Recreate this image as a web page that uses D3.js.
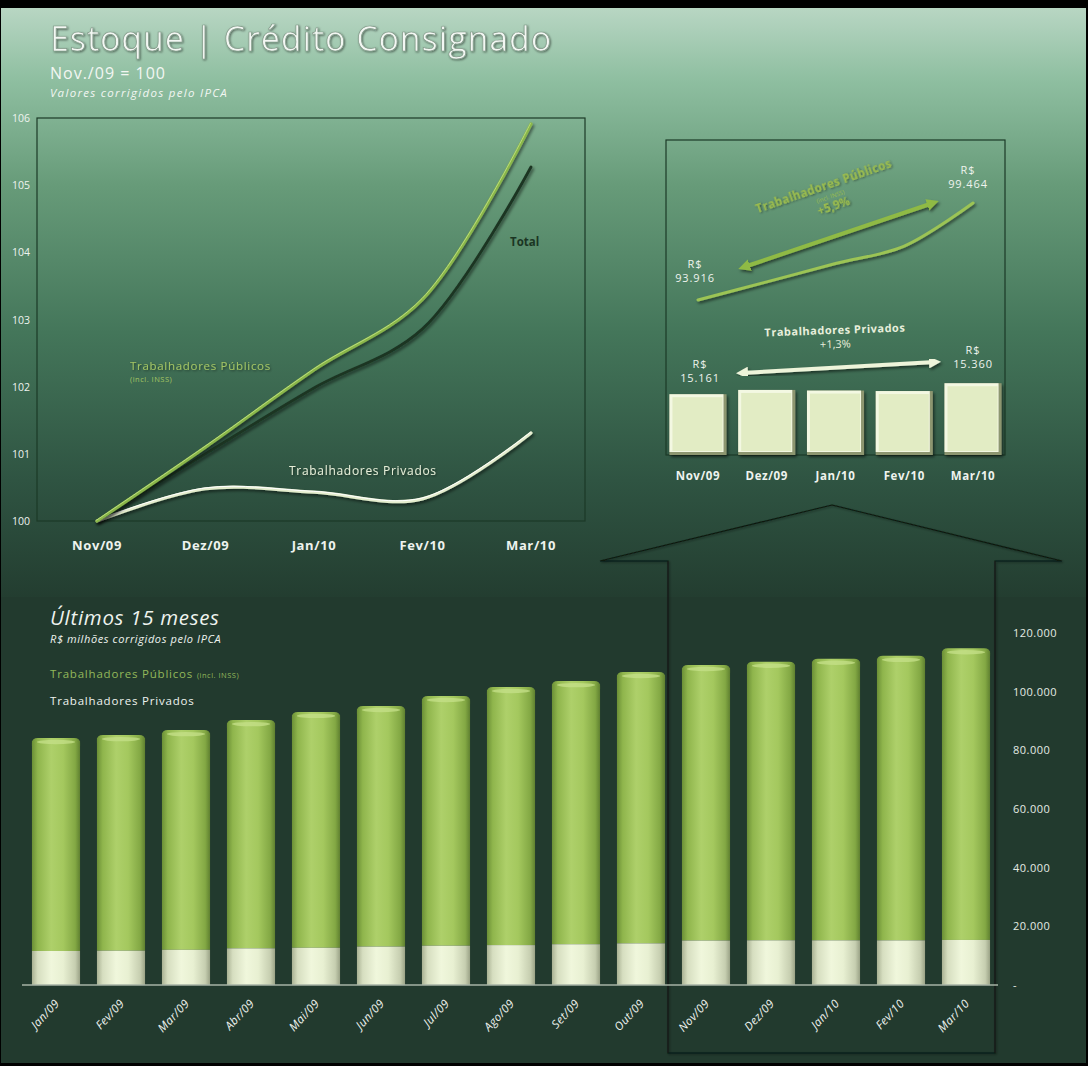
<!DOCTYPE html>
<html><head><meta charset="utf-8">
<script src="https://cdn.jsdelivr.net/npm/d3@7"></script>
<style>html,body{margin:0;padding:0;background:#000;}svg{display:block;}</style>
</head><body>
<svg id="c" width="1088" height="1066"></svg>
<script>
// ---------- DATA ----------
const indexMonths = ["Nov/09","Dez/09","Jan/10","Fev/10","Mar/10"];
const idxPublicos = [100, 101.10, 102.25, 103.30, 105.91];
const idxTotal    = [100, 101.00, 101.98, 102.86, 105.27];
const idxPrivados = [100, 100.48, 100.43, 100.33, 101.31];
const idxTicks = [100,101,102,103,104,105,106];

const insetPublicos = [93916, 94950, 96000, 97000, 99464];
const insetPrivados = [15161, 15238, 15227, 15218, 15360];

const months15 = ["Jan/09","Fev/09","Mar/09","Abr/09","Mai/09","Jun/09","Jul/09","Ago/09","Set/09","Out/09","Nov/09","Dez/09","Jan/10","Fev/10","Mar/10"];
const privados15 = [11600,11700,12000,12500,12700,13100,13400,13600,13900,14200,15161,15238,15227,15218,15360];
const publicos15 = [72600,73500,74900,77800,80400,82000,85100,88000,89700,92500,93916,94950,96000,97000,99464];
const rightTicks = [0,20000,40000,60000,80000,100000,120000];
const rightTickLabels = ["-","20.000","40.000","60.000","80.000","100.000","120.000"];

// ---------- SETUP ----------
const svg = d3.select("#c");
const defs = svg.append("defs");
const F = "'Open Sans', 'DejaVu Sans', sans-serif";

const bg = defs.append("linearGradient").attr("id","bg").attr("x1",0).attr("y1",0).attr("x2",0).attr("y2",1);
[[0,"#b8d6c3"],[0.12,"#8fbfa1"],[0.3,"#679b79"],[0.55,"#44765a"],[0.8,"#2f5442"],[1,"#233d30"]]
  .forEach(s=>bg.append("stop").attr("offset",s[0]).attr("stop-color",s[1]));

function hgrad(id, stops){
  const g = defs.append("linearGradient").attr("id",id).attr("x1",0).attr("y1",0).attr("x2",1).attr("y2",0);
  stops.forEach(s=>g.append("stop").attr("offset",s[0]).attr("stop-color",s[1]));
}
hgrad("gPub",[[0,"#6b8f36"],[0.12,"#8fb54c"],[0.4,"#aed06a"],[0.65,"#a4c85e"],[0.9,"#83a844"],[1,"#5f8030"]]);
hgrad("gPri",[[0,"#a9b193"],[0.12,"#d6dec0"],[0.4,"#f0f7dc"],[0.65,"#e8f0d2"],[0.9,"#c6ceb0"],[1,"#9aa286"]]);

const sh = defs.append("filter").attr("id","sh").attr("x","-20%").attr("y","-20%").attr("width","140%").attr("height","140%");
sh.append("feDropShadow").attr("dx",1.5).attr("dy",2).attr("stdDeviation",1.5).attr("flood-color","#000").attr("flood-opacity",0.55);
const tsh = defs.append("filter").attr("id","tsh").attr("x","-10%").attr("y","-30%").attr("width","120%").attr("height","160%");
tsh.append("feDropShadow").attr("dx",1).attr("dy",1).attr("stdDeviation",0.8).attr("flood-color","#000").attr("flood-opacity",0.5);

// background
svg.append("rect").attr("width",1088).attr("height",1066).attr("fill","#000");
svg.append("rect").attr("x",1).attr("y",8).attr("width",1085).attr("height",590).attr("fill","url(#bg)");
svg.append("rect").attr("x",1).attr("y",597).attr("width",1085).attr("height",466).attr("fill","#223a2e");

// ---------- TITLE ----------
svg.append("text").attr("x",50).attr("y",51).attr("font-family",F).attr("font-size",34).attr("letter-spacing",0.9)
  .attr("fill","#f3f7f3").attr("stroke","#7f9786").attr("stroke-width",0.7).attr("filter","url(#tsh)")
  .text("Estoque | Crédito Consignado");
svg.append("text").attr("x",50).attr("y",79).attr("font-family",F).attr("font-size",16).attr("fill","#f2f6f2").attr("letter-spacing",1)
  .text("Nov./09 = 100");
svg.append("text").attr("x",50).attr("y",97).attr("font-family",F).attr("font-size",11.5).attr("font-style","italic").attr("fill","#f2f6f2").attr("letter-spacing",1.3)
  .text("Valores corrigidos pelo IPCA");

// ---------- TOP-LEFT INDEX CHART ----------
const xI = d3.scalePoint().domain(indexMonths).range([97,531]);
const yI = d3.scaleLinear().domain([100,106]).range([521,118]);
svg.append("rect").attr("x",37).attr("y",118).attr("width",548).attr("height",403)
  .attr("fill","none").attr("stroke","#1c3a27").attr("stroke-width",1.2);
svg.append("g").selectAll("text").data(idxTicks).join("text")
  .attr("x",30).attr("y",d=>yI(d)+4).attr("text-anchor","end").attr("font-family",F).attr("font-size",10.5)
  .attr("fill","#eef3ee").text(d=>d);
svg.append("g").selectAll("text").data(indexMonths).join("text")
  .attr("x",d=>xI(d)).attr("y",550).attr("text-anchor","middle").attr("font-family",F).attr("font-size",13)
  .attr("font-weight","bold").attr("fill","#eef3ee").attr("letter-spacing",0.6).text(d=>d);

const lineI = d3.line().x((d,i)=>xI(indexMonths[i])).y(d=>yI(d)).curve(d3.curveCatmullRom.alpha(0.5));
function drawLine(data, color, hi, w){
  svg.append("path").attr("d",lineI(data)).attr("fill","none").attr("stroke",color).attr("stroke-width",w)
    .attr("stroke-linecap","round").attr("filter","url(#sh)");
  if(hi) svg.append("path").attr("d",lineI(data)).attr("fill","none").attr("stroke",hi).attr("stroke-width",1)
    .attr("stroke-linecap","round").attr("transform","translate(-0.5,-0.8)");
}
drawLine(idxPrivados,"#e4edcd","#ffffff",3.2);
drawLine(idxTotal,"#1b3523",null,2.8);
drawLine(idxPublicos,"#8ab64a","#b9dc7c",3.2);

svg.append("text").attr("x",130).attr("y",370).attr("font-family",F).attr("font-size",11.5).attr("fill","#a3c463")
  .attr("letter-spacing",0.7).attr("filter","url(#tsh)").text("Trabalhadores Públicos");
svg.append("text").attr("x",130).attr("y",382).attr("font-family",F).attr("font-size",7.5).attr("fill","#a3c463")
  .attr("letter-spacing",0.5).text("(incl. INSS)");
svg.append("text").attr("x",510).attr("y",246).attr("font-family",F).attr("font-size",11.5).attr("font-weight","bold")
  .attr("fill","#1b3523").text("Total");
svg.append("text").attr("x",289).attr("y",475).attr("font-family",F).attr("font-size",12).attr("fill","#e6eed8")
  .attr("letter-spacing",0.7).attr("filter","url(#tsh)").text("Trabalhadores Privados");

// ---------- INSET CHART ----------
svg.append("rect").attr("x",666).attr("y",140).attr("width",339).attr("height",315)
  .attr("fill","none").attr("stroke","#1c3a27").attr("stroke-width",1.2);
const xS = d3.scaleBand().domain(indexMonths).range([666,1005]).paddingInner(0.17).paddingOuter(0.05);
const ySB = d3.scaleLinear().domain([14060,15400]).range([455,381]);
const ySL = d3.scaleLinear().domain([92000,100000]).range([333.5,193.6]);

const ib = svg.append("g").selectAll("g").data(insetPrivados).join("g");
ib.append("rect").attr("x",(d,i)=>xS(indexMonths[i])).attr("y",d=>ySB(d)).attr("width",xS.bandwidth())
  .attr("height",d=>455-ySB(d)).attr("fill","#8d9670").attr("filter","url(#sh)");
ib.append("rect").attr("x",(d,i)=>xS(indexMonths[i])).attr("y",d=>ySB(d)).attr("width",xS.bandwidth()-3)
  .attr("height",d=>455-ySB(d)-3).attr("fill","#f3f8e2");
ib.append("rect").attr("x",(d,i)=>xS(indexMonths[i])+3).attr("y",d=>ySB(d)+3).attr("width",xS.bandwidth()-7)
  .attr("height",d=>455-ySB(d)-7).attr("fill","#e2ecc4");

const lineS = d3.line().x((d,i)=>xS(indexMonths[i])+xS.bandwidth()/2).y(d=>ySL(d)).curve(d3.curveCatmullRom.alpha(0.5));
svg.append("path").attr("d",lineS(insetPublicos)).attr("fill","none").attr("stroke","#9cc455").attr("stroke-width",3)
  .attr("stroke-linecap","round").attr("filter","url(#sh)");

svg.append("g").selectAll("text").data(indexMonths).join("text")
  .attr("x",d=>xS(d)+xS.bandwidth()/2).attr("y",480).attr("text-anchor","middle").attr("font-family",F)
  .attr("font-size",11.5).attr("font-weight","bold").attr("fill","#eef3ee").attr("letter-spacing",0.6).text(d=>d);

function arrowMarker(id,color){
  const m = defs.append("marker").attr("id",id).attr("viewBox","0 0 10 10").attr("refX",5).attr("refY",5)
    .attr("markerWidth",3).attr("markerHeight",3).attr("orient","auto-start-reverse");
  m.append("path").attr("d","M0,0L10,5L0,10Z").attr("fill",color);
}
arrowMarker("aG","#8fba45"); arrowMarker("aW","#eef4da");
svg.append("line").attr("x1",744).attr("y1",267).attr("x2",933).attr("y2",203).attr("stroke","#8fba45").attr("stroke-width",4)
  .attr("marker-start","url(#aG)").attr("marker-end","url(#aG)").attr("filter","url(#sh)");
svg.append("line").attr("x1",742).attr("y1",373).attr("x2",935).attr("y2",362).attr("stroke","#eef4da").attr("stroke-width",4)
  .attr("marker-start","url(#aW)").attr("marker-end","url(#aW)").attr("filter","url(#sh)");

const fmt = d3.formatLocale({decimal:",",thousands:".",grouping:[3],currency:["R$",""]}).format(",.0f");
function valLabel(x,y,v){
  const t = svg.append("text").attr("text-anchor","middle").attr("font-family",F).attr("font-size",11)
    .attr("fill","#eef3ee").attr("letter-spacing",0.9);
  t.append("tspan").attr("x",x).attr("y",y).text("R$");
  t.append("tspan").attr("x",x).attr("y",y+14).text(fmt(v));
}
valLabel(695,268,insetPublicos[0]);
valLabel(968,174,insetPublicos[4]);
valLabel(700,368,insetPrivados[0]);
valLabel(973,354,insetPrivados[4]);

const tp = svg.append("g").attr("transform","translate(825,190) rotate(-19)");
tp.append("text").attr("text-anchor","middle").attr("font-family",F).attr("font-size",11.5).attr("font-weight","bold")
  .attr("fill","#9cbd4e").attr("letter-spacing",0.4).attr("filter","url(#tsh)").text("Trabalhadores Públicos");
tp.append("text").attr("y",10).attr("x",3).attr("text-anchor","middle").attr("font-family",F).attr("font-size",6)
  .attr("fill","#9cbd4e").text("(incl. INSS)");
tp.append("text").attr("y",22).attr("x",3).attr("text-anchor","middle").attr("font-family",F).attr("font-size",11.5).attr("font-weight","bold")
  .attr("fill","#9cbd4e").attr("filter","url(#tsh)").text("+5,9%");
const tq = svg.append("g").attr("transform","translate(835,334) rotate(-2)");
tq.append("text").attr("text-anchor","middle").attr("font-family",F).attr("font-size",11).attr("font-weight","bold")
  .attr("fill","#e8efdc").attr("letter-spacing",0.5).text("Trabalhadores Privados");
tq.append("text").attr("y",14).attr("text-anchor","middle").attr("font-family",F).attr("font-size",11)
  .attr("fill","#e8efdc").text("+1,3%");

// ---------- ZOOM CALLOUT ----------
svg.append("path").attr("d","M600,561L832,505L1062,561L995,561L995,1053L668,1053L668,561Z")
  .attr("fill","none").attr("stroke","#0c1a10").attr("stroke-width",1.2).attr("filter","url(#tsh)");

// ---------- BOTTOM BAR CHART ----------
const xB = d3.scaleBand().domain(months15).range([23.5,998.5]).paddingInner(0.26).paddingOuter(0.13);
const yB = d3.scaleLinear().domain([0,120000]).range([985,633]);
const bw = xB.bandwidth();
const bars = svg.append("g").selectAll("g").data(months15).join("g");
bars.append("rect").attr("x",d=>xB(d)).attr("width",bw)
  .attr("y",(d,i)=>yB(privados15[i]+publicos15[i])+3)
  .attr("height",(d,i)=>yB(privados15[i])-yB(privados15[i]+publicos15[i])-3).attr("fill","url(#gPub)");
bars.append("path").attr("d",(d,i)=>{
    const x0=xB(d), x1=x0+bw, y0=yB(privados15[i]+publicos15[i]);
    return `M${x0},${y0+8}L${x0},${y0+5}Q${x0},${y0} ${x0+6},${y0}L${x1-6},${y0}Q${x1},${y0} ${x1},${y0+5}L${x1},${y0+8}Z`;
  }).attr("fill","url(#gPub)");
bars.append("ellipse").attr("cx",d=>xB(d)+bw/2).attr("cy",(d,i)=>yB(privados15[i]+publicos15[i])+4)
  .attr("rx",bw/2-5).attr("ry",2.2).attr("fill","#c5e08a").attr("opacity",0.75);
bars.append("rect").attr("x",d=>xB(d)).attr("width",bw)
  .attr("y",(d,i)=>yB(privados15[i])).attr("height",(d,i)=>985-yB(privados15[i])).attr("fill","url(#gPri)");

svg.append("line").attr("x1",22).attr("x2",998).attr("y1",985).attr("y2",985).attr("stroke","#a7b3a6").attr("stroke-width",1.5);
svg.append("g").selectAll("text").data(rightTicks).join("text")
  .attr("x",1013).attr("y",d=>yB(d)+4).attr("font-family",F).attr("font-size",11).attr("fill","#e4ebe4")
  .attr("letter-spacing",0.5).text((d,i)=>rightTickLabels[i]);
svg.append("g").selectAll("text").data(months15).join("text")
  .attr("transform",d=>`translate(${xB(d)+bw/2+4},${1004}) rotate(-47)`).attr("text-anchor","end")
  .attr("font-family",F).attr("font-size",11.5).attr("font-style","italic").attr("fill","#eef3ee").attr("letter-spacing",0.4)
  .text(d=>d);

// legend / titles
svg.append("text").attr("x",50).attr("y",625).attr("font-family",F).attr("font-size",20.5).attr("font-style","italic")
  .attr("fill","#eef3ee").attr("letter-spacing",0.7).text("Últimos 15 meses");
svg.append("text").attr("x",50).attr("y",643).attr("font-family",F).attr("font-size",11).attr("font-style","italic")
  .attr("fill","#eef3ee").attr("letter-spacing",0.6).text("R$ milhões corrigidos pelo IPCA");
const lp = svg.append("text").attr("x",50).attr("y",678).attr("font-family",F).attr("font-size",11.5).attr("fill","#93b85a").attr("letter-spacing",0.8);
lp.append("tspan").text("Trabalhadores Públicos ");
lp.append("tspan").attr("font-size",7.5).attr("letter-spacing",0.5).text("(incl. INSS)");
svg.append("text").attr("x",50).attr("y",705).attr("font-family",F).attr("font-size",11.5).attr("fill","#eef3ee")
  .attr("letter-spacing",0.8).text("Trabalhadores Privados");
</script>
</body></html>
